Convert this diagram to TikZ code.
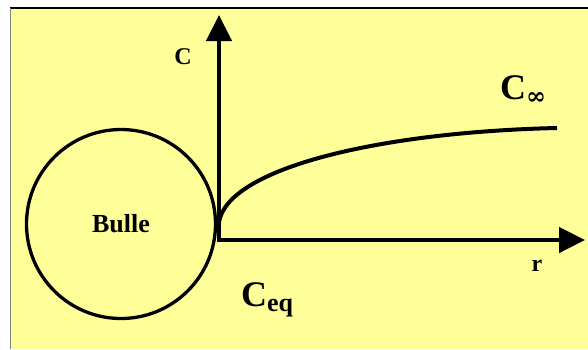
\documentclass[tikz,border=0pt]{standalone}
\usepackage{fontspec}
\setmainfont{Liberation Serif}
\newfontfamily\symfont{DejaVu Serif}
\usetikzlibrary{arrows.meta, positioning}
\definecolor{bgyellow}{HTML}{FFFF99}

\begin{document}
\begin{tikzpicture}[
    x=1pt, y=-1pt,
    axis/.style={line width=4.5pt, -{Triangle[length=26pt, width=25pt]}},
    curve/.style={line width=4pt},
    bubble/.style={circle, draw, line width=3.3pt, minimum size=189pt, inner sep=0pt, font=\bfseries\fontsize{26}{30}\selectfont},
    lbl/.style={inner sep=0pt, font=\bfseries\fontsize{24}{28}\selectfont},
    biglbl/.style={inner sep=0pt, anchor=base west, font=\bfseries\fontsize{36}{40}\selectfont}
]
\useasboundingbox (0,0) rectangle (588,349);
\fill[bgyellow] (10,8) rectangle (588,349);
\draw[line width=1.5pt] (10,8) -- (588,8);
\draw[gray, line width=1pt] (10,8) -- (10,349);
\node[bubble] (bulle) at (121,224) {Bulle};
\coordinate (orig) at (219,240);
\coordinate (ctop) at (219,15);
\coordinate (rend) at (585,240);
\coordinate (cstart) at (219,222);
\coordinate (cend) at (557,128);
\draw[axis] ([yshift=-2.25pt]orig) -- (ctop);
\draw[axis] ([xshift=-2.25pt]orig) -- (rend);
\draw[curve] (cstart) .. controls (228,168) and (380,132) .. (cend);
\node[lbl] (clabel) at (183,57) {C};
\node[lbl] (rlabel) at (537,266) {r};
\node[biglbl] (cinf) at (500,99) {C\raisebox{-5pt}{\symfont\bfseries\fontsize{24}{28}\selectfont ∞}};
\node[biglbl] (ceq) at (241,306) {C\raisebox{-5pt}{\fontsize{26}{30}\selectfont eq}};
\end{tikzpicture}
\end{document}
